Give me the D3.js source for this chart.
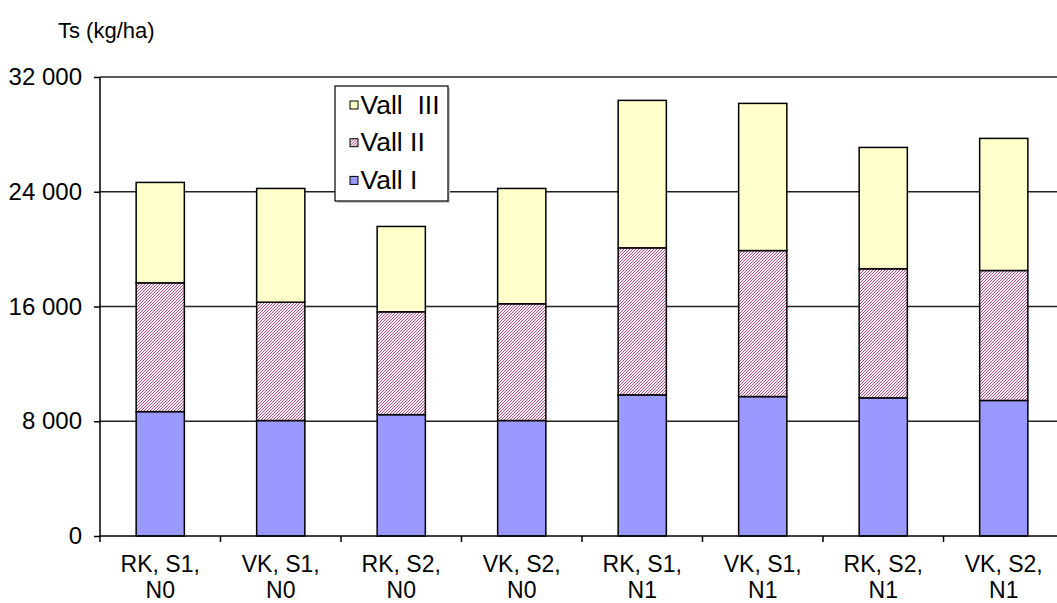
<!DOCTYPE html>
<html>
<head>
<meta charset="utf-8">
<script src="https://cdn.jsdelivr.net/npm/d3@7"></script>
<style>
  html, body { margin: 0; padding: 0; background: #fff; }
  svg { display: block; font-family: "Liberation Sans", Arial, sans-serif; }
</style>
</head>
<body>
<svg id="chart" width="1057" height="603"></svg>
<script>
// Harvest dry matter (kg/ha) per treatment, split by cut
const categories = [
  ["RK, S1,", "N0"], ["VK, S1,", "N0"], ["RK, S2,", "N0"], ["VK, S2,", "N0"],
  ["RK, S1,", "N1"], ["VK, S1,", "N1"], ["RK, S2,", "N1"], ["VK, S2,", "N1"]
];
const vallI   = [8670, 8050, 8460, 8050, 9840, 9720, 9630, 9450];
const vallII  = [8980, 8250, 7170, 8140, 10250, 10180, 9000, 9060];
const vallIII = [7000, 7930, 5950, 8040, 10280, 10260, 8460, 9210];
const seriesNames = ["Vall I", "Vall II", "Vall  III"];
const yTicks = [0, 8000, 16000, 24000, 32000];
const yTitle = "Ts (kg/ha)";

const svg = d3.select("#chart");
const W = 1057;
const plotLeft = 100, plotBottom = 536, plotTop = 77, plotRight = 1064;

const keys = ["I", "II", "III"];
const rows = categories.map((c, i) => ({ key: c.join(" "), I: vallI[i], II: vallII[i], III: vallIII[i] }));
const stack = d3.stack().keys(keys)(rows);

const x = d3.scaleBand()
  .domain(rows.map(d => d.key))
  .range([plotLeft, plotRight])
  .paddingInner(0.6)
  .paddingOuter(0.3);
const y = d3.scaleLinear().domain([0, 32000]).range([plotBottom, plotTop]);

// fine diagonal hatch for the second cut
const defs = svg.append("defs");
const pat = defs.append("pattern")
  .attr("id", "hatch").attr("patternUnits", "userSpaceOnUse")
  .attr("width", 3).attr("height", 3);
pat.append("rect").attr("width", 3).attr("height", 3).attr("fill", "#fbf0f5");
pat.append("path").attr("d", "M-1,1 L1,-1 M0,3 L3,0 M2,4 L4,2")
  .attr("stroke", "#ad4f80").attr("stroke-width", 1);

const fills = { I: "#9999ff", II: "url(#hatch)", III: "#ffffcc" };

// gridlines
svg.append("g").selectAll("line").data(yTicks.filter(t => t > 0)).join("line")
  .attr("x1", plotLeft).attr("x2", W)
  .attr("y1", d => y(d)).attr("y2", d => y(d))
  .attr("stroke", "#222").attr("stroke-width", 1.5);

// bars
svg.append("g").selectAll("g").data(stack).join("g")
  .attr("fill", d => fills[d.key])
  .selectAll("rect").data(d => d).join("rect")
  .attr("x", d => x(d.data.key))
  .attr("width", x.bandwidth())
  .attr("y", d => y(d[1]))
  .attr("height", d => y(d[0]) - y(d[1]))
  .attr("stroke", "#000").attr("stroke-width", 1.5);

// y axis
const fmt = d3.formatLocale({ decimal: ",", thousands: " ", grouping: [3], currency: ["", ""] }).format(",");
const yAxis = d3.axisLeft(y).tickValues(yTicks).tickFormat(fmt).tickSize(6).tickPadding(12);
const gy = svg.append("g").attr("transform", `translate(${plotLeft},0)`).call(yAxis);
gy.select(".domain").attr("stroke", "#000").attr("stroke-width", 1.5).attr("d", `M0,${plotTop}V${plotBottom}`);
gy.selectAll(".tick line").attr("stroke", "#000").attr("stroke-width", 1.5);
gy.selectAll(".tick text").attr("font-size", 24).attr("fill", "#000")
  .attr("font-family", "Liberation Sans, Arial, sans-serif");

// x axis baseline and category separators
svg.append("line").attr("x1", plotLeft).attr("x2", W).attr("y1", plotBottom).attr("y2", plotBottom)
  .attr("stroke", "#000").attr("stroke-width", 1.5);
const step = x.step();
const bounds = d3.range(categories.length + 1).map(i => x(rows[0].key) - step * x.paddingOuter() + i * step);
svg.append("g").selectAll("line").data(bounds.filter(b => b <= W)).join("line")
  .attr("x1", d => d).attr("x2", d => d)
  .attr("y1", plotBottom).attr("y2", plotBottom + 6)
  .attr("stroke", "#000").attr("stroke-width", 1.5);

// category labels (two lines)
const lab = svg.append("g").selectAll("text").data(rows).join("text")
  .attr("x", d => x(d.key) + x.bandwidth() / 2)
  .attr("text-anchor", "middle").attr("font-size", 23).attr("fill", "#000");
lab.selectAll("tspan").data((d, i) => categories[i]).join("tspan")
  .attr("x", function() { return d3.select(this.parentNode).attr("x"); })
  .attr("y", (d, j) => 572 + j * 26)
  .text(d => d);

// y title
svg.append("text").attr("x", 58).attr("y", 38)
  .attr("font-size", 22).attr("fill", "#000").text(yTitle);

// legend
const lg = svg.append("g").attr("transform", "translate(335,86)");
lg.append("rect").attr("x", 2).attr("y", 2).attr("width", 113).attr("height", 115).attr("fill", "#ccc");
lg.append("rect").attr("width", 113).attr("height", 115).attr("fill", "#fff")
  .attr("stroke", "#000").attr("stroke-width", 1.2);
const legendItems = [
  { name: seriesNames[2], fill: fills.III },
  { name: seriesNames[1], fill: fills.II },
  { name: seriesNames[0], fill: fills.I }
];
const li = lg.selectAll("g.item").data(legendItems).join("g")
  .attr("class", "item")
  .attr("transform", (d, i) => `translate(0,${19 + i * 37.7})`);
li.append("rect").attr("x", 15).attr("y", -4).attr("width", 8).attr("height", 8)
  .attr("fill", d => d.fill).attr("stroke", "#000").attr("stroke-width", 1);
li.append("text").attr("x", 25.5).attr("y", 8.5)
  .attr("font-size", 26.5).attr("fill", "#000")
  .style("white-space", "pre").attr("xml:space", "preserve")
  .text(d => d.name);
</script>
</body>
</html>
